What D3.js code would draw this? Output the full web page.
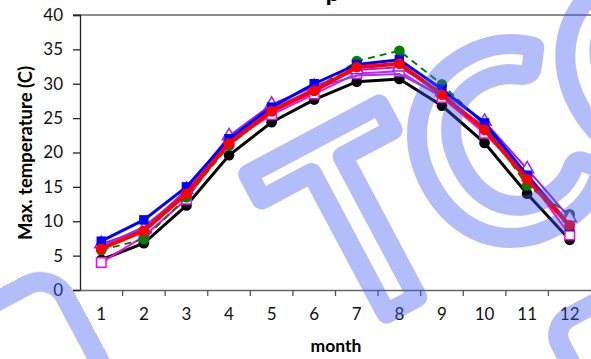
<!DOCTYPE html>
<html>
<head>
<meta charset="utf-8">
<script src="https://cdn.jsdelivr.net/npm/d3@7"></script>
<style>
  body { margin: 0; background: #fff; }
  svg text { font-family: Lato, "Open Sans", sans-serif; }
</style>
</head>
<body>
<div id="chart"></div>
<script>
const months = [1, 2, 3, 4, 5, 6, 7, 8, 9, 10, 11, 12];
const yTicks = [0, 5, 10, 15, 20, 25, 30, 35, 40];

// one array per station line
const blackVals  = [4.4, 6.8, 12.3, 19.6, 24.4, 27.7, 30.3, 30.7, 26.8, 21.4, 14.0, 7.3];
const magentaVals = [4.0, 7.8, 13.2, 21.5, 25.5, 28.5, 31.5, 31.8, 28.0, 22.8, 16.5, 8.0];
const violetVals = [6.3, 9.2, 14.3, 21.8, 26.3, 29.3, 31.2, 31.4, 28.2, 23.8, 16.8, 9.7];
const greenVals  = [5.8, 7.4, 13.5, 21.0, 26.0, 29.0, 33.3, 34.8, 29.9, 24.0, 15.2, 11.0];
const purpleVals = [6.7, 8.8, 14.6, 22.4, 27.0, 29.6, 32.0, 32.4, 28.8, 24.5, 17.6, 10.5];
const blueVals   = [7.1, 10.2, 15.0, 22.0, 26.6, 30.0, 32.8, 33.5, 29.2, 24.3, 16.7, 9.2];
const redVals    = [6.0, 8.6, 14.0, 21.3, 26.0, 29.0, 32.4, 32.9, 28.4, 23.3, 16.1, 9.4];

const series = [
  { vals: blackVals,   color: '#000000', width: 3,   marker: 'circle',   fill: '#000000', dash: null },
  { vals: magentaVals, color: '#ff00ff', width: 2,   marker: 'square',   fill: '#ffffff', dash: null },
  { vals: violetVals,  color: '#8040ff', width: 2,   marker: null,       fill: null,      dash: null },
  { vals: greenVals,   color: '#008000', width: 2,   marker: 'circle',   fill: '#008000', dash: '7,5' },
  { vals: purpleVals,  color: '#a020f0', width: 2,   marker: 'triangle', fill: '#ffffff', dash: null },
  { vals: blueVals,    color: '#0000ff', width: 3,   marker: 'square',   fill: '#0000ff', dash: null },
  { vals: redVals,     color: '#ff0000', width: 4,   marker: 'circle',   fill: '#ff0000', dash: null }
];

const W = 591, H = 359;
const margin = { top: 15, right: 0, bottom: 69, left: 80 };
const width = W - margin.left - margin.right;
const height = H - margin.top - margin.bottom;

const svg = d3.select('#chart').append('svg')
  .attr('width', W).attr('height', H);

const g = svg.append('g')
  .attr('transform', `translate(${margin.left},${margin.top})`);

const x = d3.scaleBand().domain(months).range([0, width]);
const y = d3.scaleLinear().domain([0, 40]).range([height, 0]);
const cx = m => x(m) + x.bandwidth() / 2;

// top gridline at 40
g.append('line')
  .attr('x1', -7).attr('x2', width)
  .attr('y1', y(40)).attr('y2', y(40))
  .attr('stroke', '#8c8c8c').attr('stroke-width', 2);

// y axis
const yAxis = g.append('g')
  .call(d3.axisLeft(y).tickValues(yTicks).tickSize(7).tickPadding(10));
yAxis.select('.domain').attr('stroke', '#222').attr('stroke-width', 1.3);
yAxis.selectAll('.tick line').attr('stroke', '#222').attr('stroke-width', 1.3);
yAxis.selectAll('text').attr('font-size', 17).attr('fill', '#111');

// x axis, ticks between the categories
const xAxis = g.append('g')
  .attr('transform', `translate(0,${height})`)
  .call(d3.axisBottom(x).tickSize(0).tickPadding(18));
xAxis.select('.domain').attr('stroke', '#666').attr('stroke-width', 1.3);
xAxis.selectAll('text').attr('font-size', 17).attr('fill', '#111');
xAxis.selectAll('.sep')
  .data(months.slice(1))
  .enter().append('line')
  .attr('class', 'sep')
  .attr('x1', d => x(d)).attr('x2', d => x(d))
  .attr('y1', 0).attr('y2', 6)
  .attr('stroke', '#555').attr('stroke-width', 1.3);

// axis titles
svg.append('text')
  .attr('transform', 'translate(32,153) rotate(-90)')
  .attr('text-anchor', 'middle')
  .attr('font-size', 18.5).attr('font-weight', 'bold')
  .text('Max. temperature (C)');

svg.append('text')
  .attr('x', 336).attr('y', 352)
  .attr('text-anchor', 'middle')
  .attr('font-size', 17.5).attr('font-weight', 'bold')
  .text('month');

// chart title, mostly above the frame (only the descender shows)
svg.append('text')
  .attr('x', 333).attr('y', 1)
  .attr('text-anchor', 'middle')
  .attr('font-size', 26).attr('font-weight', 'bold')
  .text('p');

// lines and markers
const line = d3.line()
  .x((d, i) => cx(months[i]))
  .y(d => y(d));

series.forEach(s => {
  const sg = g.append('g');
  sg.append('path')
    .datum(s.vals)
    .attr('d', line)
    .attr('fill', 'none')
    .attr('stroke', s.color)
    .attr('stroke-width', s.width)
    .attr('stroke-dasharray', s.dash);

  if (!s.marker) return;
  const sym = s.marker === 'circle' ? d3.symbolCircle
    : s.marker === 'square' ? d3.symbolSquare : d3.symbolTriangle;
  const size = s.marker === 'triangle' ? 75 : 90;
  sg.selectAll('path.m')
    .data(s.vals)
    .enter().append('path')
    .attr('class', 'm')
    .attr('d', d3.symbol().type(sym).size(size))
    .attr('transform', (d, i) => `translate(${cx(months[i])},${y(d)})`)
    .attr('fill', s.fill)
    .attr('stroke', s.color)
    .attr('stroke-width', s.fill === '#ffffff' ? 1.5 : 0);
});

// translucent watermark on top
const wm = svg.append('g')
  .attr('opacity', 0.4)
  .attr('fill', 'none')
  .attr('stroke', 'rgb(65,90,240)')
  .attr('stroke-linejoin', 'round');

wm.append('text')
  .attr('transform', 'translate(333,342) rotate(-28)')
  .attr('font-size', 260)
  .attr('font-weight', 'bold')
  .attr('font-family', 'DejaVu Sans')
  .attr('fill', 'none')
  .attr('stroke-width', 20)
  .text('TCC');

// fragments of neighbouring watermark letters
wm.append('rect')
  .attr('transform', 'translate(52,272) rotate(-28)')
  .attr('x', -130).attr('y', 0)
  .attr('width', 130).attr('height', 140)
  .attr('rx', 28)
  .attr('stroke-width', 20);

wm.append('rect')
  .attr('transform', 'translate(560,322) rotate(-28)')
  .attr('x', -10).attr('y', 0)
  .attr('width', 120).attr('height', 120)
  .attr('rx', 20)
  .attr('stroke-width', 20);
</script>
</body>
</html>
